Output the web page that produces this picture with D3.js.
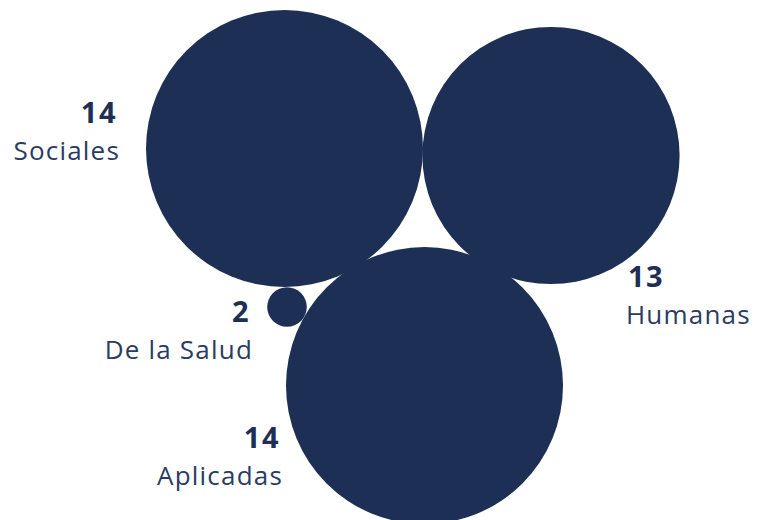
<!DOCTYPE html>
<html>
<head>
<meta charset="utf-8">
<script src="https://cdn.jsdelivr.net/npm/d3@7"></script>
<style>
  body { margin: 0; background: #fff; }
  text { font-family: "Open Sans", sans-serif; fill: #1d2f55; }
</style>
</head>
<body>
<svg id="chart" width="757" height="520"></svg>
<script>
const categories = ['Sociales', 'Humanas', 'De la Salud', 'Aplicadas'];
const values = [14, 13, 2, 14];

// bubble layout (centers) and label placement
const centers = [[284.5, 148.5], [551, 155.5], [287, 307], [424.5, 385.5]];
const labelPos = [[120, 'end'], [626, 'start'], [253, 'end'], [283, 'end']];
const labelY = [123, 287, 322, 448];

const svg = d3.select('#chart');
const rScale = d3.scaleLinear().domain([0, 14]).range([0, 138.5]);

const data = categories.map((c, i) => ({ name: c, value: values[i], cx: centers[i][0], cy: centers[i][1] }));

svg.selectAll('circle')
    .data(data)
    .join('circle')
    .attr('cx', d => d.cx)
    .attr('cy', d => d.cy)
    .attr('r', d => rScale(d.value))
    .attr('fill', '#1d2f55');

const labels = svg.selectAll('g.lbl')
    .data(data)
    .join('g')
    .attr('class', 'lbl')
    .attr('transform', (d, i) => `translate(${labelPos[i][0]},${labelY[i]})`)
    .attr('text-anchor', (d, i) => labelPos[i][1]);

labels.append('text')
    .attr('x', (d, i) => labelPos[i][1] === 'end' ? -3 : 2)
    .attr('font-size', 29)
    .attr('font-weight', 700)
    .attr('letter-spacing', 1.5)
    .text(d => d.value);

labels.append('text')
    .attr('y', 37)
    .attr('font-size', 26)
    .attr('letter-spacing', 1.2)
    .style('fill', '#2a3c62')
    .text(d => d.name);
</script>
</body>
</html>
